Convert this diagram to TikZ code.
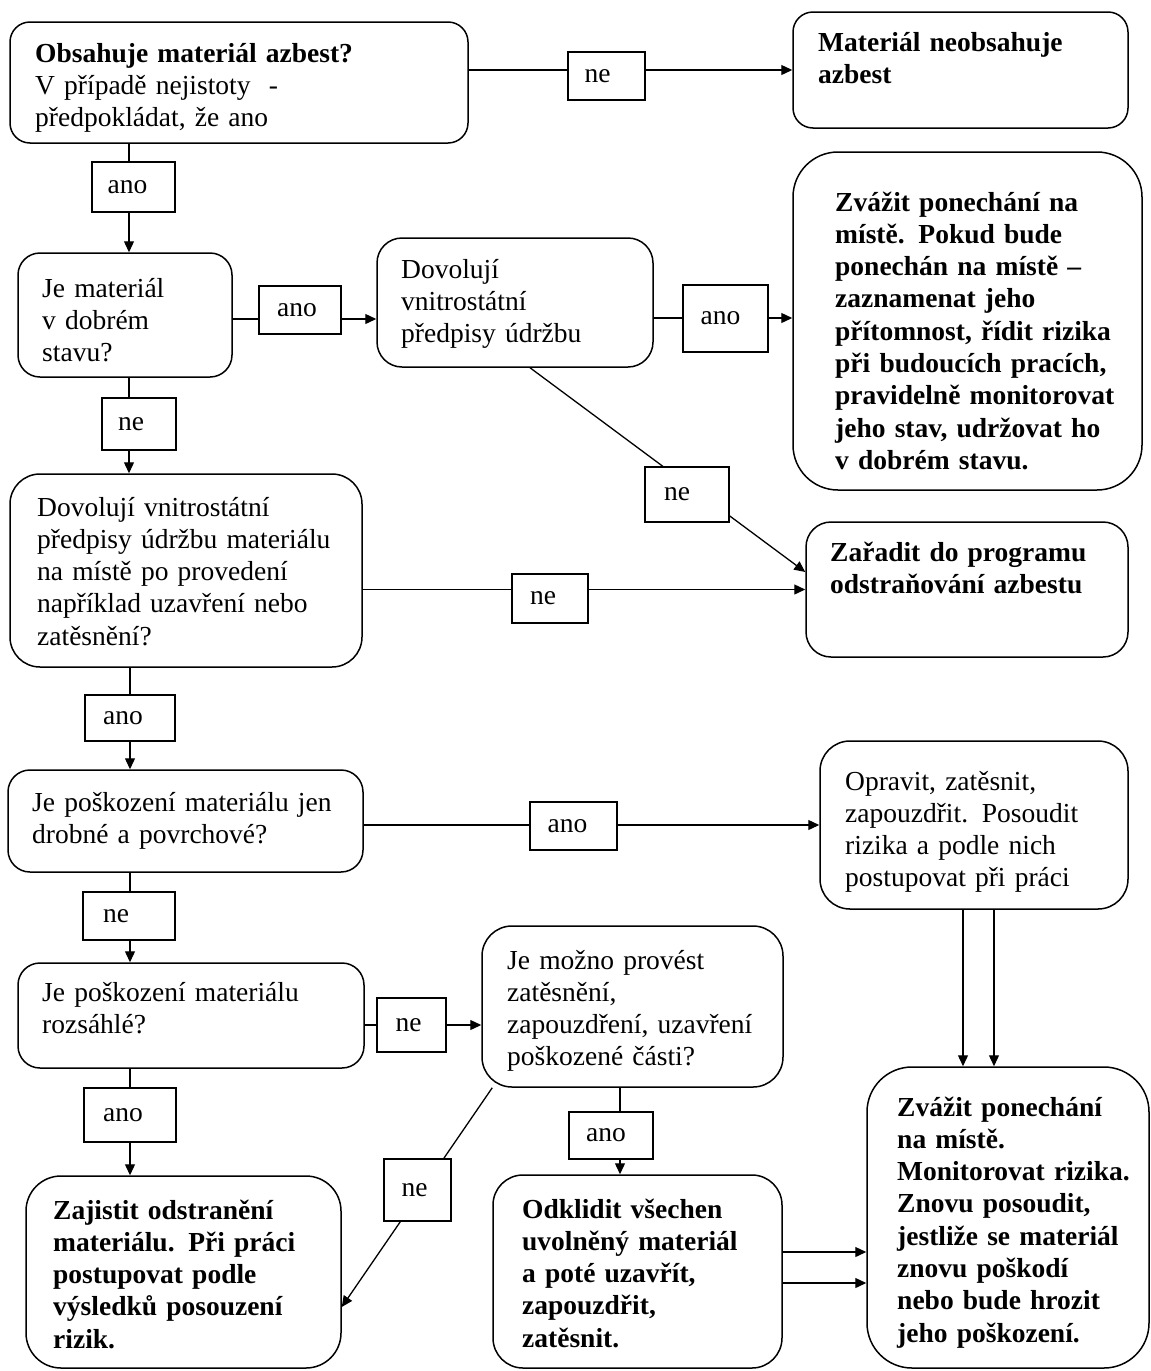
\documentclass[tikz,border=0pt]{standalone}
\usepackage{fontspec}
\setmainfont{Liberation Serif}
\usetikzlibrary{fit,arrows.meta,backgrounds}
\begin{document}
\begin{tikzpicture}[x=1pt,y=-1pt,
  every node/.style={font=\fontsize{27.5}{32.3}\selectfont},
  box/.style={draw, line width=1.5pt, inner sep=0pt, fill=white},
  lab/.style={draw, line width=1.3pt, inner sep=0pt, fill=white},
  txt/.style={anchor=base west, inner sep=0pt, align=left, text width=440pt},
  bold/.style={font=\fontsize{27.5}{32.3}\selectfont\bfseries},
  arr/.style={line width=1.3pt, -{Triangle[length=11pt,width=10pt]}}]
\useasboundingbox (0,0) rectangle (1151,1371);
% boxes
\node[box, rounded corners=20pt, fit={(10,22)(468,143)}] (A) {};
\node[box, rounded corners=20pt, fit={(793,12)(1128,128)}] (B) {};
\node[box, rounded corners=22pt, fit={(18,253)(232,377)}] (C) {};
\node[box, rounded corners=25pt, fit={(377,238)(653,367)}] (D) {};
\node[box, rounded corners=45pt, fit={(793,152)(1142,490)}] (E) {};
\node[box, rounded corners=25pt, fit={(806,522)(1128,657)}] (F) {};
\node[box, rounded corners=30pt, fit={(10,474)(362,667)}] (G) {};
\node[box, rounded corners=22pt, fit={(8,770)(363,872)}] (H) {};
\node[box, rounded corners=30pt, fit={(820,741)(1128,909)}] (I) {};
\node[box, rounded corners=22pt, fit={(18,963)(364,1068)}] (J) {};
\node[box, rounded corners=30pt, fit={(482,926)(783,1087)}] (K) {};
\node[box, rounded corners=45pt, fit={(867,1067)(1149,1368)}] (L) {};
\node[box, rounded corners=30pt, fit={(493,1175)(782,1368)}] (M) {};
\node[box, rounded corners=35pt, fit={(26,1176)(341,1368)}] (N) {};
% texts
\node[txt] (At) at (35,62) {\textbf{Obsahuje materiál azbest?}\\V případě nejistoty\ \ -\\předpokládat, že ano};
\node[txt, bold] (Bt) at (818,51) {Materiál neobsahuje\\azbest};
\node[txt] (Ct) at (42,297) {Je materiál\\v dobrém\\stavu?};
\node[txt] (Dt) at (401,278) {Dovolují\\vnitrostátní\\předpisy údržbu};
\node[txt, bold] (Et) at (835,211) {Zvážit ponechání na\\místě. Pokud bude\\ponechán na místě –\\zaznamenat jeho\\přítomnost, řídit rizika\\při budoucích pracích,\\pravidelně monitorovat\\jeho stav, udržovat ho\\v dobrém stavu.};
\node[txt, bold] (Ft) at (830,561) {Zařadit do programu\\odstraňování azbestu};
\node[txt] (Gt) at (37,516) {Dovolují vnitrostátní\\předpisy údržbu materiálu\\na místě po provedení\\například uzavření nebo\\zatěsnění?};
\node[txt] (Ht) at (32,811) {Je poškození materiálu jen\\drobné a povrchové?};
\node[txt] (It) at (845,790) {Opravit, zatěsnit,\\zapouzdřit. Posoudit\\rizika a podle nich\\postupovat při práci};
\node[txt] (Jt) at (42,1001) {Je poškození materiálu\\rozsáhlé?};
\node[txt] (Kt) at (507,969) {Je možno provést\\zatěsnění,\\zapouzdření, uzavření\\poškozené části?};
\node[txt, bold] (Lt) at (897,1116) {Zvážit ponechání\\na místě.\\Monitorovat rizika.\\Znovu posoudit,\\jestliže se materiál\\znovu poškodí\\nebo bude hrozit\\jeho poškození.};
\node[txt, bold] (Mt) at (522,1218) {Odklidit všechen\\uvolněný materiál\\a poté uzavřít,\\zapouzdřit,\\zatěsnit.};
\node[txt, bold] (Nt) at (53,1219) {Zajistit odstranění\\materiálu. Při práci\\postupovat podle\\výsledků posouzení\\rizik.};
% labels
\node[lab, minimum width=77pt, minimum height=48pt] (lAB) at (606.5,76) {\kern-18pt ne};
\node[lab, minimum width=83pt, minimum height=50pt] (lAC) at (133.5,187) {\kern-12pt ano};
\node[lab, minimum width=82pt, minimum height=48pt] (lCD) at (300,310) {\kern-6pt ano};
\node[lab, minimum width=85pt, minimum height=67pt] (lDE) at (725.5,318.5) {\kern-10pt ano};
\node[lab, minimum width=84pt, minimum height=55pt] (lDF) at (687,494.5) {\kern-20pt ne};
\node[lab, minimum width=74pt, minimum height=52pt] (lCG) at (139,424) {\kern-16pt ne};
\node[lab, minimum width=76pt, minimum height=49pt] (lGF) at (550,598.5) {\kern-14pt ne};
\node[lab, minimum width=90pt, minimum height=46pt] (lGH) at (130,718) {\kern-14pt ano};
\node[lab, minimum width=87pt, minimum height=48pt] (lHI) at (573.5,826) {\kern-12pt ano};
\node[lab, minimum width=92pt, minimum height=48pt] (lHJ) at (129,916) {\kern-26pt ne};
\node[lab, minimum width=69pt, minimum height=54pt] (lJK) at (411.5,1025) {\kern-6pt ne};
\node[lab, minimum width=92pt, minimum height=54pt] (lJN) at (130,1115) {\kern-14pt ano};
\node[lab, minimum width=84pt, minimum height=47pt] (lKM) at (611,1135.5) {\kern-10pt ano};
\node[lab, minimum width=67pt, minimum height=62pt] (lKN) at (417.5,1190) {\kern-6pt ne};
% helper coordinates
\coordinate (s1) at (129,0);
\coordinate (s2) at (130,0);
\coordinate (h1) at (0,70);
\coordinate (h2) at (0,319);
\coordinate (h3) at (0,318);
\coordinate (h4) at (0,1025);
\coordinate (h5) at (0,1252);
\coordinate (h6) at (0,1283);
\coordinate (v1) at (963,0);
\coordinate (v2) at (994,0);
\coordinate (v3) at (620,0);
\begin{pgfonlayer}{background}
\draw[arr] (A.east |- h1) -- (B.west |- h1);
\draw[arr] (A.south -| s1) -- (C.north -| s1);
\draw[arr] (C.east |- h2) -- (D.west |- h2);
\draw[arr] (D.east |- h3) -- (E.west |- h3);
\draw[arr] ([xshift=15pt]D.south) -- ([yshift=17.5pt]F.west);
\draw[arr] (C.south -| s1) -- (G.north -| s1);
\draw[arr] (G.east |- F.west) -- (F.west);
\draw[arr] (G.south -| s2) -- (H.north -| s2);
\draw[arr] (H.east |- I.west) -- (I.west);
\draw[arr] (I.south -| v1) -- (L.north -| v1);
\draw[arr] (I.south -| v2) -- (L.north -| v2);
\draw[arr] (H.south -| s2) -- (J.north -| s2);
\draw[arr] (J.east |- h4) -- (K.west |- h4);
\draw[arr] (K.south -| v3) -- (M.north -| v3);
\draw[arr] ([xshift=11pt]K.south west) -- ([yshift=-35pt]N.east);
\draw[arr] (J.south -| s2) -- (N.north -| s2);
\draw[arr] (M.east |- h5) -- (L.west |- h5);
\draw[arr] (M.east |- h6) -- (L.west |- h6);
\end{pgfonlayer}
\end{tikzpicture}
\end{document}
